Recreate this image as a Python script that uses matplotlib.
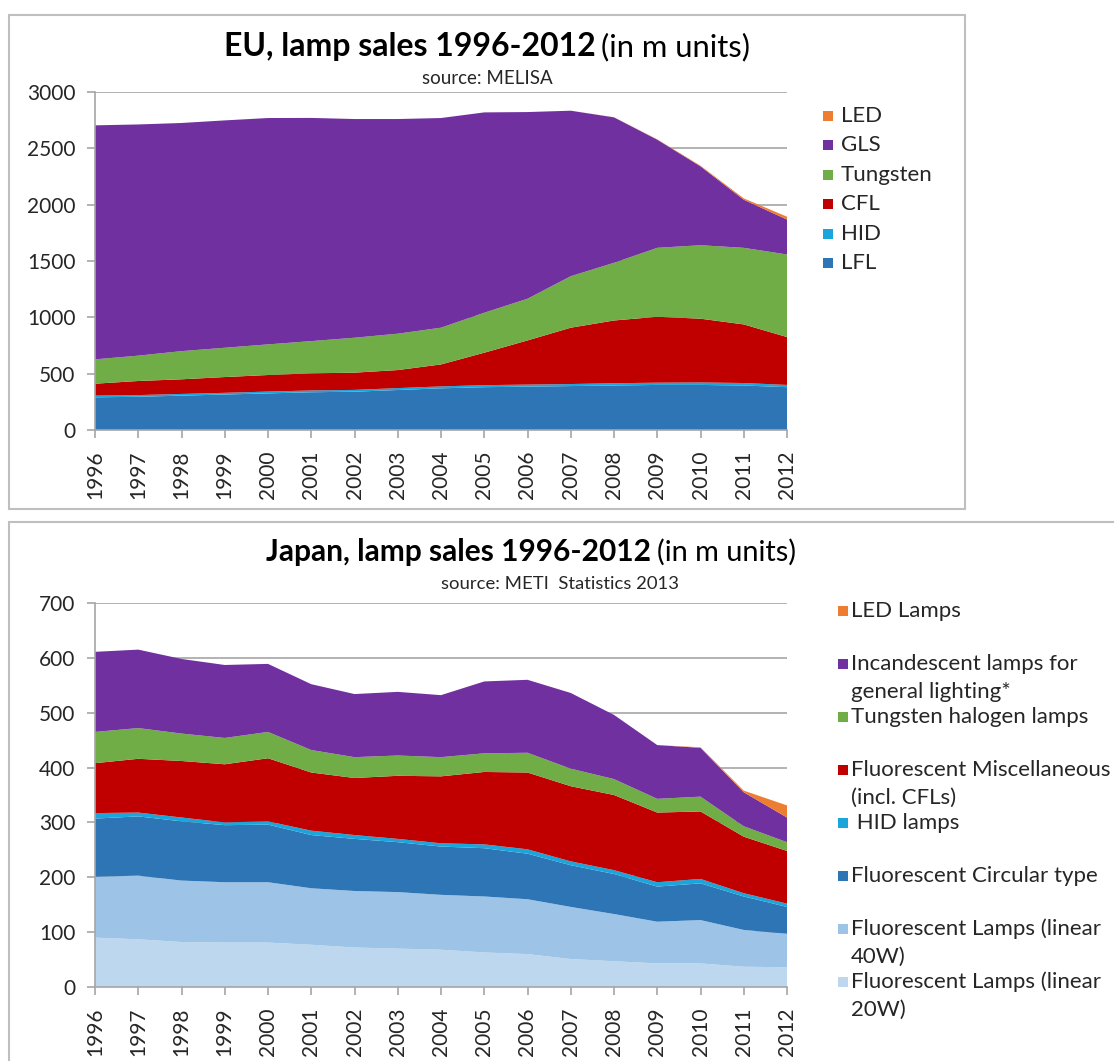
import matplotlib
matplotlib.use("Agg")
import matplotlib.pyplot as plt
from matplotlib.patches import Rectangle

plt.rcParams['font.family'] = ['Lato', 'DejaVu Sans']

years = list(range(1996, 2013))

# EU, million units per lamp type (source: MELISA)
eu_lfl = [290, 295, 305, 315, 325, 335, 340, 355, 370, 380, 385, 390, 395, 400, 400, 395, 380]
eu_hid = [15, 15, 15, 15, 16, 16, 16, 17, 17, 18, 18, 18, 20, 20, 22, 22, 20]
eu_cfl = [106, 125, 130, 140, 147, 152, 153, 160, 195, 288, 392, 500, 557, 585, 566, 520, 425]
eu_tungsten = [216, 225, 250, 260, 272, 286, 310, 323, 326, 355, 370, 457, 512, 612, 652, 680, 733]
eu_gls = [2077, 2052, 2025, 2018, 2009, 1981, 1941, 1905, 1861, 1778, 1657, 1469, 1291, 960, 700, 427, 310]
eu_led = [0, 0, 0, 0, 0, 0, 0, 0, 0, 0, 0, 0, 1, 3, 6, 12, 25]

eu_labels = ['LFL', 'HID', 'CFL', 'Tungsten', 'GLS', 'LED']

# Japan, million units per lamp type (source: METI)
jp_fl20 = [90, 87, 82, 81, 81, 77, 72, 70, 68, 63, 60, 51, 47, 43, 43, 37, 36]
jp_fl40 = [111, 116, 112, 110, 110, 103, 103, 103, 100, 102, 100, 95, 86, 76, 79, 67, 61]
jp_circular = [106, 108, 108, 104, 105, 97, 95, 91, 88, 88, 83, 76, 73, 64, 67, 61, 49]
jp_hid = [10, 7, 7, 5, 6, 8, 7, 6, 6, 7, 8, 7, 7, 8, 8, 6, 6]
jp_misc = [91, 98, 103, 106, 115, 106, 104, 115, 122, 132, 140, 137, 137, 127, 123, 103, 96]
jp_tungsten = [57, 56, 50, 48, 48, 41, 38, 37, 35, 34, 36, 32, 29, 25, 27, 19, 16]
jp_incand = [146, 143, 136, 133, 124, 120, 115, 116, 113, 131, 133, 138, 117, 98, 89, 62, 45]
jp_led = [0, 0, 0, 0, 0, 0, 0, 0, 0, 0, 0, 0, 0, 0, 1, 3, 22]

jp_labels = [['Fluorescent Lamps (linear', '20W)'],
             ['Fluorescent Lamps (linear', '40W)'],
             ['Fluorescent Circular type'],
             [' HID lamps'],
             ['Fluorescent Miscellaneous', '(incl. CFLs)'],
             ['Tungsten halogen lamps'],
             ['Incandescent lamps for', 'general lighting*'],
             ['LED Lamps']]

eu_colors = ['#2E75B6', '#1BA6DB', '#C00000', '#70AD47', '#7030A0', '#ED7D31']
jp_colors = ['#BDD7EE', '#9DC3E6', '#2E75B6', '#1BA6DB', '#C00000', '#70AD47', '#7030A0', '#ED7D31']

W, H = 1114, 1061
fig = plt.figure(figsize=(W / 100, H / 100), dpi=100)
fig.patch.set_facecolor('white')


def fx(x):
    return x / W


def fy(y):
    return 1 - y / H


def style_axis(ax, top):
    ax.set_xlim(years[0], years[-1])
    ax.set_ylim(0, top)
    ax.set_xticks(years)
    ax.set_xticklabels([str(y) for y in years], rotation=90)
    ax.yaxis.grid(True, color='#A6A6A6', lw=1.2)
    ax.set_axisbelow(True)
    for s in ['top', 'right']:
        ax.spines[s].set_visible(False)
    for s in ['left', 'bottom']:
        ax.spines[s].set_color('#A6A6A6')
        ax.spines[s].set_linewidth(1.2)
    ax.tick_params(axis='both', direction='out', length=6, width=1.2, color='#A6A6A6',
                   labelsize=15, labelcolor='#262626')
    ax.tick_params(axis='y', pad=8)
    ax.tick_params(axis='x', pad=9)


# --- EU chart ---
fig.add_artist(Rectangle((fx(9), fy(509)), (965 - 9) / W, (509 - 15) / H,
                         transform=fig.transFigure, fill=False, edgecolor='#BFBFBF', lw=1.5))
ax1 = fig.add_axes([fx(95), fy(430), (787 - 95) / W, (430 - 92) / H])
ax1.stackplot(years, eu_lfl, eu_hid, eu_cfl, eu_tungsten, eu_gls, eu_led,
              colors=eu_colors, labels=eu_labels, lw=0)
style_axis(ax1, 3000)
ax1.set_yticks(range(0, 3001, 500))

# --- Japan chart ---
fig.add_artist(Rectangle((fx(9), fy(1075)), (1130 - 9) / W, (1075 - 522) / H,
                         transform=fig.transFigure, fill=False, edgecolor='#BFBFBF', lw=1.5))
ax2 = fig.add_axes([fx(95), fy(987), (787 - 95) / W, (987 - 603) / H])
ax2.stackplot(years, jp_fl20, jp_fl40, jp_circular, jp_hid, jp_misc, jp_tungsten, jp_incand, jp_led,
              colors=jp_colors, lw=0)
style_axis(ax2, 700)
ax2.set_yticks(range(0, 701, 100))


def two_part_title(center_x, baseline_y, bold, normal, size):
    t1 = fig.text(0, fy(baseline_y), bold, fontsize=size, fontweight='bold', va='baseline')
    t2 = fig.text(0, fy(baseline_y), normal, fontsize=size * 0.97, va='baseline')
    r = fig.canvas.get_renderer()
    w1 = t1.get_window_extent(r).width
    w2 = t2.get_window_extent(r).width
    gap = 6
    start = center_x - (w1 + gap + w2) / 2
    t1.set_x(fx(start))
    t2.set_x(fx(start + w1 + gap))


two_part_title(487, 56, 'EU, lamp sales 1996-2012', '(in m units)', 23)
fig.text(fx(487), fy(79), 'source: MELISA', fontsize=13.5, ha='center', va='center', color='#262626')

two_part_title(531, 561, 'Japan, lamp sales 1996-2012', '(in m units)', 21.5)
fig.text(fx(560), fy(584), 'source: METI  Statistics 2013', fontsize=13.3, ha='center', va='center',
         color='#262626')

# EU legend, top entry first
for i, (lab, col) in enumerate(zip(eu_labels[::-1], eu_colors[::-1])):
    y = 116 + i * 29.4
    fig.add_artist(Rectangle((fx(823), fy(y + 5)), 10 / W, 10 / H, transform=fig.transFigure,
                             facecolor=col, edgecolor='none'))
    fig.text(fx(841), fy(y), lab, fontsize=16, va='center', color='#262626')

# Japan legend, top entry first
for i, (lines, col) in enumerate(zip(jp_labels[::-1], jp_colors[::-1])):
    y = 611 + i * 53
    fig.add_artist(Rectangle((fx(838), fy(y + 5)), 10 / W, 10 / H, transform=fig.transFigure,
                             facecolor=col, edgecolor='none'))
    for k, line in enumerate(lines):
        fig.text(fx(851), fy(y + k * 27.5), line, fontsize=16, va='center', color='#262626')

fig.savefig('out.png', dpi=100, facecolor='white')
